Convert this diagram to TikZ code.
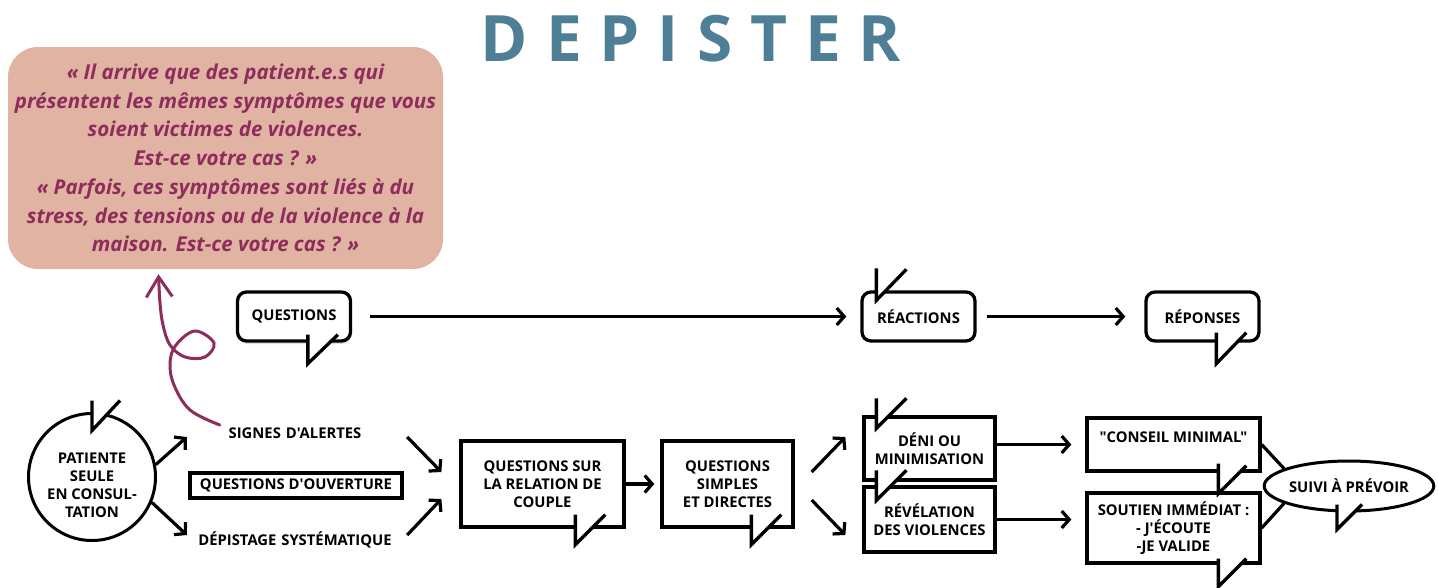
\documentclass[tikz,border=0pt]{standalone}
\usepackage{fontspec}
\setmainfont{Open Sans}
\newfontfamily\osans{Open Sans}
\usepackage{tikz}
\usetikzlibrary{arrows.meta,positioning,shapes.geometric,shadows}
\usepackage{xcolor}

\definecolor{titre}{HTML}{4F7F97}
\definecolor{saumon}{HTML}{E0B3A2}
\definecolor{prune}{HTML}{8E2D5C}

\newcommand{\lblfont}{\osans\fontsize{14.8}{18}\selectfont\bfseries}
\newcommand{\quotefont}{\fontsize{20.5}{28.7}\selectfont\bfseries\itshape}
\newcommand{\titrefont}{\osans\fontsize{64}{64}\selectfont\bfseries\addfontfeature{LetterSpace=28}}

\tikzset{
  bulle/.style={rectangle, draw=black, line width=3.3pt, fill=white, inner sep=0pt, align=center, font=\lblfont},
  arrondie/.style={bulle, rounded corners=9pt, minimum width=113pt, minimum height=49pt},
  lbl/.style={inner sep=0pt, align=center, font=\lblfont},
  queue/.style={draw=black, line width=3.3pt, fill=white, line join=miter},
  fl/.style={line width=3.2pt, -{Straight Barb[length=7.5pt,width=17pt]}},
  lien/.style={line width=3.2pt}
}

\begin{document}
\begin{tikzpicture}[x=1pt, y=-1pt]
\useasboundingbox (0,0) rectangle (1438,587);

% titre et citation
\node (title) at (691,39) [text=titre, font=\titrefont] {DEPISTER};
\node (quote) at (225.5,158) [rectangle, rounded corners=30pt, fill=saumon, minimum width=435pt, minimum height=222pt, inner sep=0pt, align=center, text=prune, font=\quotefont]
  {« Il arrive que des patient.e.s qui\\ présentent les mêmes symptômes que vous\\ soient victimes de violences.\\ Est-ce votre cas ? »\\ « Parfois, ces symptômes sont liés à du\\ stress, des tensions ou de la violence à la\\ maison. Est-ce votre cas ? »};

% ligne du haut
\node (questions) at (294,316.5) [arrondie, drop shadow={shadow xshift=1pt, shadow yshift=-3pt, opacity=0.25}] {QUESTIONS};
\node (reactions) at (918.5,316.5) [arrondie] {RÉACTIONS};
\node (reponses) at (1202.5,316.5) [arrondie] {RÉPONSES};

% ligne du bas
\node (patient) at (92,477) [circle, draw=black, line width=3pt, minimum size=127pt, inner sep=0pt, align=center, font=\lblfont] {PATIENTE\\SEULE\\EN CONSUL-\\TATION\\[-34pt]};
\node (signes) at (295,433) [lbl, text width=150pt] {SIGNES D'ALERTES};
\node (ouverture) at (296,485.5) [bulle, line width=3.8pt, minimum width=212pt, minimum height=25pt] {QUESTIONS D'OUVERTURE};
\node (depistage) at (295,540) [lbl, text width=200pt] {DÉPISTAGE SYSTÉMATIQUE};
\node (qcouple) at (542.5,484) [bulle, minimum width=163pt, minimum height=86pt] {QUESTIONS SUR\\LA RELATION DE\\COUPLE};
\node (qsimples) at (727.5,484) [bulle, minimum width=131pt, minimum height=86pt] {QUESTIONS\\SIMPLES\\ET DIRECTES};
\node (deni) at (929.5,448.5) [bulle, minimum width=131pt, minimum height=63pt] {DÉNI OU\\MINIMISATION};
\node (revelation) at (929.5,519.5) [bulle, minimum width=131pt, minimum height=65pt] {RÉVÉLATION\\DES VIOLENCES};
\node (conseil) at (1173.5,444.5) [bulle, minimum width=173pt, minimum height=53pt] {"CONSEIL MINIMAL"\\[-3pt]};
\node (soutien) at (1173.5,528) [bulle, minimum width=173pt, minimum height=70pt] {SOUTIEN IMMÉDIAT :\\- J'ÉCOUTE\\-JE VALIDE};
\node (suivi) at (1349,486) [ellipse, draw=black, line width=3pt, fill=white, minimum width=150pt, minimum height=50pt, inner sep=0pt, font=\lblfont] {SUIVI À PRÉVOIR};

% queues des bulles
\draw[queue] ([xshift=72pt,yshift=8pt]questions.south west) -- ++(0,29) -- ++(30,-29);
\draw[queue] ([xshift=16pt,yshift=22pt]reactions.north west) -- ++(0,32) -- ++(30,-31);
\draw[queue] ([xshift=72pt,yshift=10pt]reponses.south west) -- ++(0,31) -- ++(30,-31);
\draw[queue] ([yshift=11.5pt]patient.north) -- ++(0,30) -- ++(28,-30);
\draw[queue] ([xshift=116pt,yshift=14pt]qcouple.south west) -- ++(0,30) -- ++(30,-30);
\draw[queue] ([xshift=91pt,yshift=14pt]qsimples.south west) -- ++(0,30) -- ++(30,-30);
\draw[queue] ([xshift=14pt,yshift=17pt]deni.north west) -- ++(0,30) -- ++(30,-30);
\draw[queue] ([xshift=14pt,yshift=15pt]revelation.north west) -- ++(0,30) -- ++(30,-30);
\draw[queue] ([xshift=133pt,yshift=9pt]conseil.south west) -- ++(0,30) -- ++(28,-28);
\draw[queue] ([xshift=133pt,yshift=6pt]soutien.south west) -- ++(0,28) -- ++(28,-28);
\draw[queue] ([xshift=-12pt,yshift=8pt]suivi.south) -- ++(0,25) -- ++(25,-25);

% fleches
\draw[fl] ([xshift=18pt]questions.east) -- ([xshift=-14pt]reactions.west);
\draw[fl] ([xshift=10pt]reactions.east) -- ([xshift=-19pt]reponses.west);
\draw[fl] (patient.11) -- ([xshift=-33pt,yshift=-4pt]signes.west);
\draw[fl] (patient.-23) -- ([xshift=-8pt,yshift=5pt]depistage.west);
\draw[fl] ([xshift=37pt,yshift=-4pt]signes.east) -- ([xshift=-18pt,yshift=12pt]qcouple.west);
\draw[fl] ([xshift=12pt,yshift=5pt]depistage.east) -- ([xshift=-18pt,yshift=-15pt]qcouple.west);
\draw[fl] (qcouple.east) -- ([xshift=-6pt]qsimples.west);
\draw[fl] ([xshift=17pt,yshift=12pt]qsimples.east) -- ([xshift=-17pt,yshift=11.5pt]deni.west);
\draw[fl] ([xshift=17pt,yshift=-16pt]qsimples.east) -- ([xshift=-17pt,yshift=-15.5pt]revelation.west);
\draw[fl] (conseil.west -| deni.east) -- ([xshift=-14pt]conseil.west);
\draw[fl] (revelation.east) -- ([xshift=-14pt]soutien.west |- revelation.east);
\draw[lien] (conseil.east) -- (suivi.165);
\draw[lien] (soutien.east) -- (suivi.195);

% boucle vers la citation
\draw[prune, line width=3pt, line cap=round, -{Straight Barb[length=20pt,width=26pt]}]
  plot[smooth, tension=0.6] coordinates {([yshift=8pt]signes.west) (190,410) (174,385) (170,363) (176,345) (195,331) (214,343) (205,357) (185,357) (170,345) (163,325) (160,303) ([xshift=-67pt,yshift=-5pt]quote.south)};
\end{tikzpicture}
\end{document}
